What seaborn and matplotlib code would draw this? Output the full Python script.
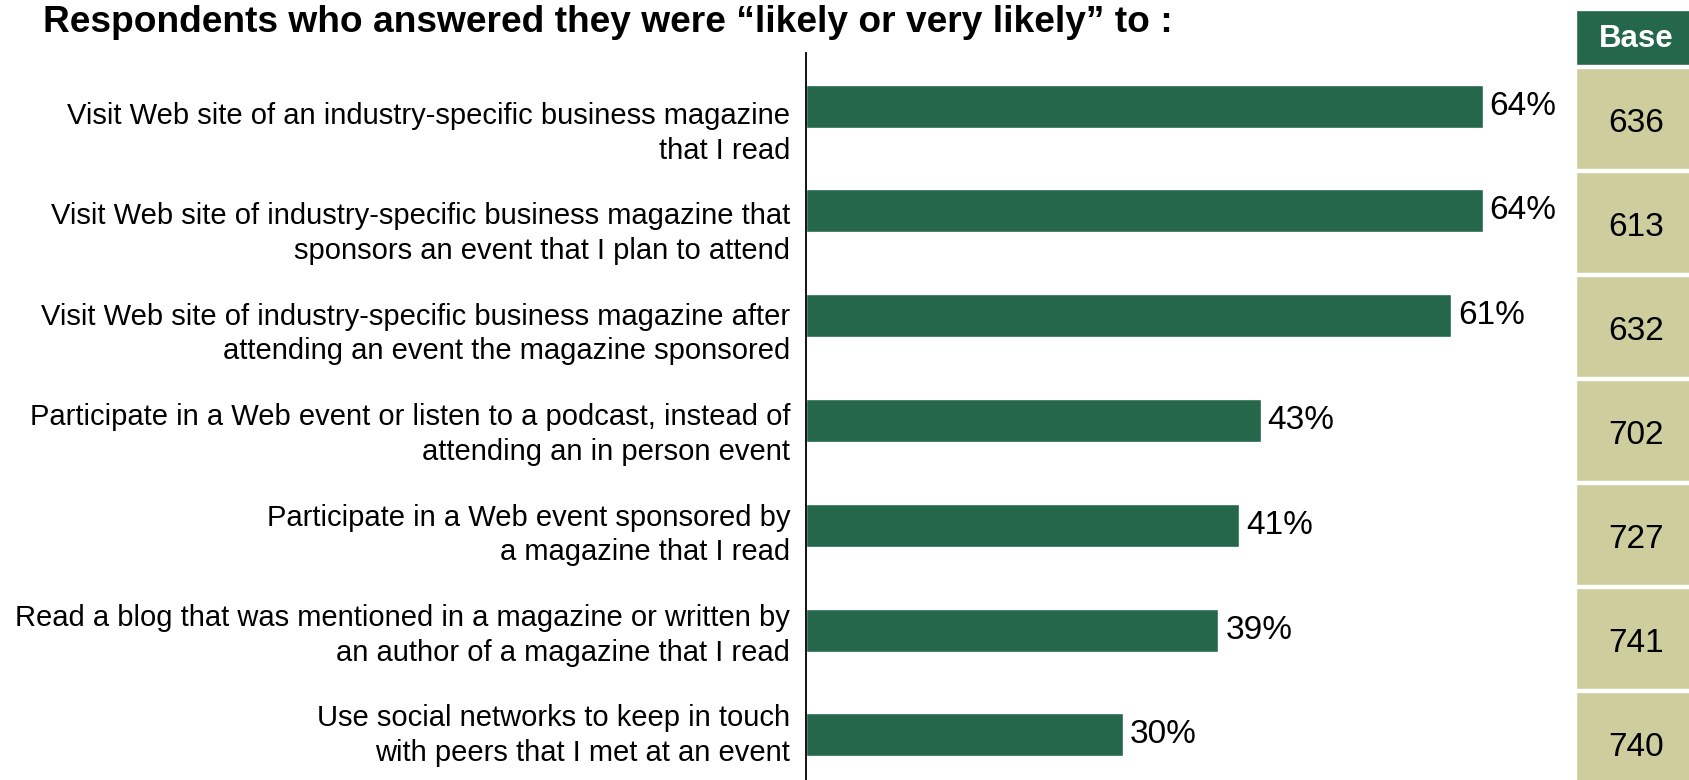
import matplotlib
matplotlib.use("Agg")
import matplotlib.pyplot as plt
import seaborn as sns
import pandas as pd

# Survey items and share answering "likely or very likely"
items = [
    "Visit Web site of an industry-specific business magazine\nthat I read",
    "Visit Web site of industry-specific business magazine that\nsponsors an event that I plan to attend",
    "Visit Web site of industry-specific business magazine after\nattending an event the magazine sponsored",
    "Participate in a Web event or listen to a podcast, instead of\nattending an in person event",
    "Participate in a Web event sponsored by\na magazine that I read",
    "Read a blog that was mentioned in a magazine or written by\nan author of a magazine that I read",
    "Use social networks to keep in touch\nwith peers that I met at an event",
]
likely_pct = [64, 64, 61, 43, 41, 39, 30]
base_n = [636, 613, 632, 702, 727, 741, 740]

title = "Respondents who answered they were \u201clikely or very likely\u201d to :"
base_header = "Base"

GREEN = "#24674A"
KHAKI = "#CDCD9E"

sns.set_theme(style="white")
plt.rcParams["font.family"] = ["Liberation Sans", "DejaVu Sans"]

W, H = 1690, 780
fig = plt.figure(figsize=(W / 100, H / 100), dpi=100)

# main bar panel
ax = fig.add_axes([806 / W, 0, (1546 - 806) / W, (780 - 53) / H])
df = pd.DataFrame({"item": items, "pct": likely_pct})
sns.barplot(data=df, x="pct", y="item", orient="h", color=GREEN,
            saturation=1, width=0.41, ax=ax)
ax.set_xlim(0, 70)
ax.set_ylim(6.43, -0.507)
ax.set_xlabel("")
ax.set_ylabel("")
ax.set_xticks([])

# category labels sit on a slightly tighter pitch than the bars
n = len(items)
label_pos = [0.20 + 0.958 * i for i in range(n)]
ax.set_yticks(label_pos, items)
ax.tick_params(axis="y", length=0, pad=11.5, labelsize=21.0, labelcolor="black")
for t in ax.get_yticklabels():
    t.set_linespacing(1.3)

for side in ("top", "right", "bottom"):
    ax.spines[side].set_visible(False)
ax.spines["left"].set_color("black")
ax.spines["left"].set_linewidth(1.3)

ax.bar_label(ax.containers[0], labels=[f"{v}%" for v in likely_pct],
             padding=5, fontsize=24, color="black")

# base-size column on the right
axt = fig.add_axes([1576 / W, 0, (W - 1576) / W, 1])
axt.set_xlim(0, 1)
axt.set_ylim(H, 0)
axt.axis("off")
axt.barh([37.5], [1], height=55, left=0, color=GREEN, align="center")
axt.text(0.53, 39, base_header, ha="center", va="center", color="white",
         fontsize=22.5, fontweight="bold")
pitch = 104.0
row_top = [68 + pitch * i for i in range(n)]
axt.barh([t + (pitch - 3) / 2 for t in row_top], [1] * n, height=pitch - 3,
         left=0, color=KHAKI, align="center")
for t, b in zip(row_top, base_n):
    axt.text(0.53, t + 55, str(b), ha="center", va="center", color="black",
             fontsize=24)

fig.text(43 / W, 1 - 23 / H, title, ha="left", va="center",
         fontsize=26.7, fontweight="bold", color="black")

fig.savefig("out.png", dpi=100)
